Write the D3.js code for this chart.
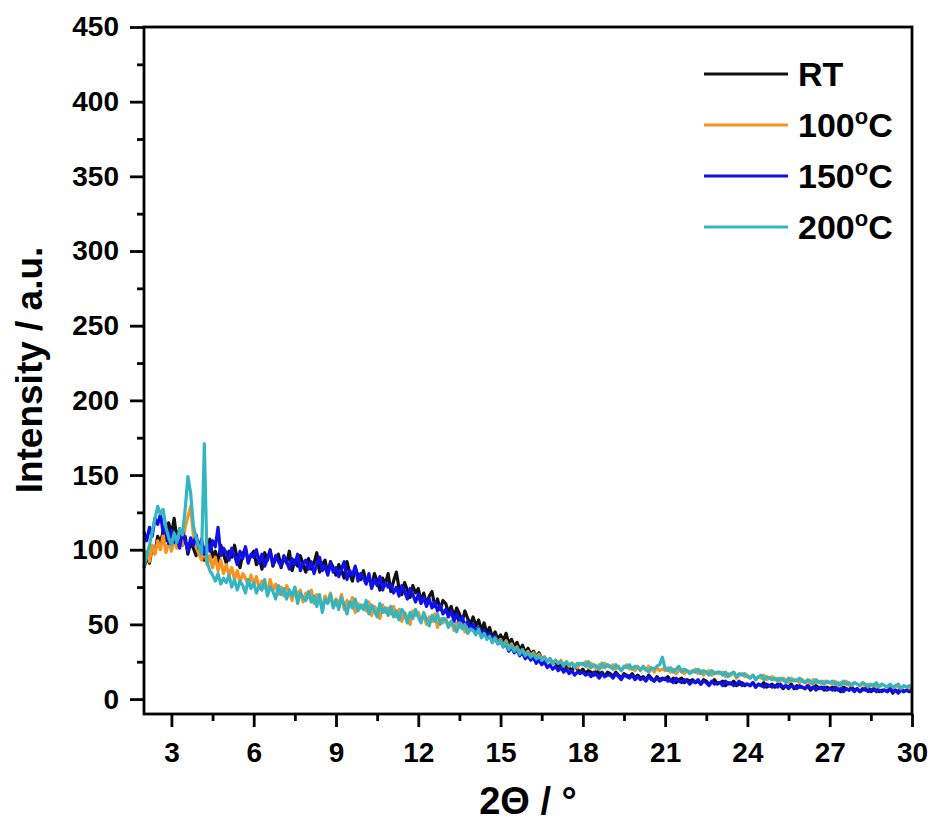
<!DOCTYPE html>
<html>
<head>
<meta charset="utf-8">
<script src="https://cdn.jsdelivr.net/npm/d3@7"></script>
<style>
  body { margin: 0; background: #fff; }
  svg { display: block; font-family: "Liberation Sans", Arial, sans-serif; font-weight: bold; }
</style>
</head>
<body>
<div id="chart"></div>
<script>
// sampling grid of the diffractograms (2-theta, degrees)
const angleStart = 2;
const angleStep = 0.1;

// intensity readings, one row per degree (10 samples each)
const rtValues = [
  88, 95, 91, 102, 98, 109, 104, 113, 106, 118,
  110, 121, 107, 114, 103, 109, 97, 105, 101, 96,
  104, 98, 93, 101, 107, 95, 99, 92, 103, 97,
  91, 99, 95, 103, 94, 88, 97, 101, 92, 96,
  99, 90, 95, 87, 98, 93, 100, 89, 94, 97,
  88, 95, 91, 99, 86, 93, 89, 96, 90, 85,
  94, 87, 91, 98, 85, 90, 93, 84, 92, 88,
  83, 90, 86, 81, 92, 84, 79, 88, 83, 80,
  86, 78, 82, 75, 84, 79, 73, 81, 77, 84,
  72, 79, 85, 74, 70, 78, 73, 68, 76, 71,
  74, 66, 71, 63, 69, 72, 62, 67, 60, 66,
  64, 58, 62, 55, 61, 57, 52, 59, 54, 50,
  55, 49, 53, 46, 51, 44, 48, 41, 45, 40,
  43, 39, 44, 37, 40, 35, 38, 33, 36, 31,
  34, 30, 32, 28, 31, 27, 28, 25, 27, 24,
  25, 22, 24, 20, 23, 21, 19, 22, 20, 18,
  20, 17, 19, 18, 16, 19, 17, 18, 15, 18,
  17, 15, 18, 16, 14, 17, 16, 15, 17, 14,
  16, 14, 15, 13, 16, 14, 12, 15, 13, 14,
  13, 15, 12, 14, 11, 13, 14, 11, 13, 12,
  13, 11, 12, 10, 13, 12, 10, 11, 13, 10,
  11, 12, 9, 11, 10, 12, 9, 10, 11, 9,
  10, 9, 11, 8, 10, 9, 11, 8, 9, 10,
  8, 10, 9, 7, 9, 8, 10, 7, 9, 8,
  8, 7, 9, 6, 8, 9, 7, 8, 6, 8,
  7, 8, 6, 7, 5, 8, 7, 6, 8, 6,
  7, 5, 7, 6, 8, 5, 6, 7, 5, 6,
  6, 5, 7, 4, 6, 5, 7, 5, 6, 5,
  6
];

const t100Values = [
  94, 99, 92, 103, 97, 106, 100, 110, 98, 105,
  99, 107, 101, 111, 103, 115, 122, 129, 110, 102,
  97, 93, 101, 90, 96, 88, 95, 86, 93, 84,
  90, 83, 88, 80, 86, 78, 84, 81, 76, 83,
  77, 82, 74, 79, 76, 71, 80, 73, 77, 70,
  75, 69, 76, 72, 66, 74, 70, 73, 65, 71,
  68, 73, 64, 70, 67, 61, 69, 65, 71, 62,
  67, 63, 70, 60, 66, 62, 68, 58, 64, 61,
  63, 59, 65, 56, 62, 60, 54, 63, 58, 61,
  57, 62, 55, 60, 52, 58, 55, 50, 59, 56,
  58, 53, 56, 50, 55, 52, 57, 48, 54, 51,
  54, 49, 52, 46, 51, 48, 53, 45, 49, 46,
  48, 44, 47, 42, 45, 41, 43, 39, 42, 38,
  40, 36, 39, 34, 37, 33, 35, 31, 33, 30,
  32, 29, 31, 28, 30, 27, 28, 25, 27, 24,
  26, 24, 26, 23, 25, 22, 24, 23, 21, 24,
  23, 25, 21, 24, 22, 20, 23, 21, 24, 22,
  21, 23, 20, 22, 19, 21, 23, 20, 21, 19,
  22, 20, 21, 19, 22, 20, 18, 21, 19, 20,
  19, 21, 18, 20, 17, 19, 20, 17, 19, 18,
  18, 20, 17, 19, 16, 18, 19, 16, 18, 17,
  17, 18, 15, 17, 16, 18, 14, 16, 17, 15,
  16, 14, 16, 13, 15, 14, 16, 13, 14, 15,
  13, 14, 12, 14, 13, 11, 14, 12, 13, 11,
  13, 11, 12, 10, 13, 11, 12, 10, 12, 11,
  11, 10, 12, 9, 11, 10, 12, 9, 10, 11,
  10, 9, 11, 8, 10, 9, 10, 8, 9, 10,
  9, 8, 9, 7, 9, 8, 7, 9, 8, 7,
  8
];

const t150Values = [
  112, 106, 115, 109, 121, 117, 124, 111, 116, 104,
  113, 105, 109, 101, 112, 106, 99, 108, 103, 110,
  101, 107, 97, 104, 99, 106, 102, 115, 96, 101,
  98, 93, 101, 96, 90, 99, 94, 102, 91, 97,
  95, 100, 91, 97, 89, 94, 99, 90, 96, 92,
  89, 96, 92, 87, 94, 90, 97, 86, 91, 93,
  87, 92, 84, 90, 95, 86, 89, 83, 91, 85,
  88, 82, 87, 92, 80, 86, 83, 89, 79, 84,
  81, 77, 84, 74, 80, 76, 82, 73, 78, 75,
  77, 71, 75, 69, 76, 72, 67, 74, 70, 65,
  70, 64, 68, 62, 67, 61, 65, 59, 63, 57,
  60, 55, 59, 52, 57, 51, 55, 49, 52, 47,
  50, 45, 48, 42, 46, 41, 44, 38, 42, 37,
  39, 35, 37, 32, 35, 31, 33, 29, 31, 27,
  29, 26, 28, 24, 26, 23, 25, 21, 23, 20,
  22, 19, 21, 18, 20, 17, 19, 16, 18, 17,
  18, 16, 17, 15, 18, 16, 14, 17, 15, 16,
  16, 14, 17, 15, 13, 16, 15, 14, 16, 13,
  15, 13, 14, 12, 15, 13, 12, 14, 12, 13,
  14, 12, 13, 11, 14, 12, 11, 13, 12, 10,
  12, 11, 13, 10, 12, 11, 9, 12, 10, 11,
  11, 9, 12, 10, 11, 9, 10, 12, 9, 10,
  10, 9, 11, 8, 10, 9, 8, 10, 9, 8,
  9, 8, 10, 8, 9, 7, 9, 8, 7, 9,
  8, 7, 9, 7, 8, 6, 8, 7, 8, 6,
  7, 6, 8, 6, 7, 5, 7, 6, 7, 5,
  7, 5, 6, 7, 5, 6, 7, 5, 6, 5,
  6, 5, 7, 5, 6, 4, 6, 5, 6, 5,
  6
];

const t200Values = [
  89, 96, 103, 112, 121, 129, 124, 127, 115, 108,
  103, 111, 105, 114, 110, 127, 149, 138, 116, 108,
  102, 97, 171, 92, 86, 83, 79, 84, 77, 81,
  78, 83, 75, 80, 73, 79, 76, 71, 80, 74,
  78, 71, 76, 73, 80, 69, 75, 72, 67, 76,
  70, 74, 67, 73, 69, 75, 64, 71, 68, 66,
  72, 65, 69, 62, 70, 58, 67, 64, 70, 61,
  66, 60, 68, 63, 57, 65, 61, 67, 59, 63,
  60, 66, 57, 63, 59, 55, 64, 58, 61, 56,
  62, 55, 59, 53, 60, 57, 51, 58, 54, 60,
  55, 51, 58, 53, 49, 56, 52, 57, 50, 54,
  53, 48, 52, 49, 45, 51, 47, 50, 44, 47,
  46, 43, 47, 41, 44, 40, 42, 38, 41, 37,
  39, 35, 38, 33, 36, 32, 34, 30, 33, 29,
  31, 28, 30, 27, 29, 26, 28, 25, 27, 24,
  26, 24, 25, 22, 25, 23, 24, 21, 24, 23,
  24, 22, 25, 21, 23, 22, 20, 24, 21, 23,
  22, 20, 23, 21, 19, 22, 21, 23, 20, 22,
  21, 19, 22, 20, 18, 21, 20, 22, 23, 28,
  20, 19, 21, 18, 20, 22, 18, 20, 19, 17,
  19, 18, 20, 17, 19, 18, 16, 19, 17, 18,
  18, 16, 18, 15, 17, 18, 15, 17, 16, 17,
  15, 14, 16, 13, 15, 16, 13, 15, 14, 13,
  14, 12, 14, 13, 11, 14, 12, 13, 12, 14,
  12, 11, 13, 12, 10, 13, 11, 12, 10, 12,
  11, 12, 10, 11, 9, 12, 10, 11, 9, 11,
  10, 9, 11, 10, 8, 10, 9, 11, 8, 10,
  9, 8, 10, 8, 9, 10, 7, 9, 8, 9,
  8
];

const seriesNames = ['RT', '100', '150', '200'];
const seriesColors = ['#111111', '#f7931e', '#1010ee', '#34b6c2'];
const xTickValues = [3, 6, 9, 12, 15, 18, 21, 24, 27, 30];
const xMinorValues = [4.5, 7.5, 10.5, 13.5, 16.5, 19.5, 22.5, 25.5, 28.5];
const yTickValues = [0, 50, 100, 150, 200, 250, 300, 350, 400, 450];
const yMinorValues = [25, 75, 125, 175, 225, 275, 325, 375, 425];

const width = 933;
const height = 823;
const marginLeft = 144;
const marginRight = 21;
const marginTop = 27;
const marginBottom = 109;

const series = [rtValues, t100Values, t150Values, t200Values].map((vals, k) => ({
  name: seriesNames[k],
  color: seriesColors[k],
  points: vals.map((v, i) => [angleStart + i * angleStep, v])
}));

const x = d3.scaleLinear([2, 30], [marginLeft, width - marginRight]);
const y = d3.scaleLinear([-10, 450], [height - marginBottom, marginTop]);

const svg = d3.select('#chart')
  .append('svg')
  .attr('width', width)
  .attr('height', height);

// traces
const line = d3.line().x(d => x(d[0])).y(d => y(d[1]));
svg.append('g')
  .selectAll('path')
  .data(series)
  .join('path')
  .attr('fill', 'none')
  .attr('stroke', d => d.color)
  .attr('stroke-width', 3.2)
  .attr('stroke-linejoin', 'round')
  .attr('d', d => line(d.points));

// axes
const axisWidth = 2.8;
const styleAxis = g => {
  g.select('.domain').remove();
  g.selectAll('.tick line').attr('stroke', '#000').attr('stroke-width', axisWidth);
  g.selectAll('.tick text').attr('fill', '#000').attr('font-size', 28).attr('font-weight', 'bold');
};

svg.append('g')
  .attr('transform', `translate(0,${height - marginBottom})`)
  .call(d3.axisBottom(x).tickValues(xTickValues).tickSize(13).tickPadding(15).tickFormat(d3.format('d')))
  .call(styleAxis);
svg.append('g')
  .attr('transform', `translate(0,${height - marginBottom})`)
  .call(d3.axisBottom(x).tickValues(xMinorValues).tickSize(7).tickFormat(''))
  .call(styleAxis);

svg.append('g')
  .attr('transform', `translate(${marginLeft},0)`)
  .call(d3.axisLeft(y).tickValues(yTickValues).tickSize(14).tickPadding(11).tickFormat(d3.format('d')))
  .call(styleAxis);
svg.append('g')
  .attr('transform', `translate(${marginLeft},0)`)
  .call(d3.axisLeft(y).tickValues(yMinorValues).tickSize(7).tickFormat(''))
  .call(styleAxis);

// frame
svg.append('rect')
  .attr('x', marginLeft)
  .attr('y', marginTop)
  .attr('width', width - marginLeft - marginRight)
  .attr('height', height - marginTop - marginBottom)
  .attr('fill', 'none')
  .attr('stroke', '#000')
  .attr('stroke-width', axisWidth);

// axis titles
svg.append('text')
  .attr('transform', 'translate(42,370) rotate(-90)')
  .attr('text-anchor', 'middle')
  .attr('font-size', 37)
  .text('Intensity / a.u.');

svg.append('text')
  .attr('x', 528)
  .attr('y', 814)
  .attr('text-anchor', 'middle')
  .attr('font-size', 38)
  .text('2\u0398 / \u00b0');

// legend
const legend = svg.append('g');
const legendY = d3.scaleLinear([0, 1], [74, 125]);
const item = legend.selectAll('g')
  .data(series)
  .join('g')
  .attr('transform', (d, i) => `translate(704,${legendY(i)})`);
item.append('line')
  .attr('x2', 84)
  .attr('stroke', d => d.color)
  .attr('stroke-width', 2.8);
const label = item.append('text')
  .attr('x', 94)
  .attr('y', 12)
  .attr('font-size', 34);
label.append('tspan').text(d => d.name);
label.filter(d => d.name !== 'RT')
  .append('tspan')
  .attr('font-size', 22)
  .attr('dy', -13)
  .text('o');
label.filter(d => d.name !== 'RT')
  .append('tspan')
  .attr('dy', 13)
  .text('C');
</script>
</body>
</html>
